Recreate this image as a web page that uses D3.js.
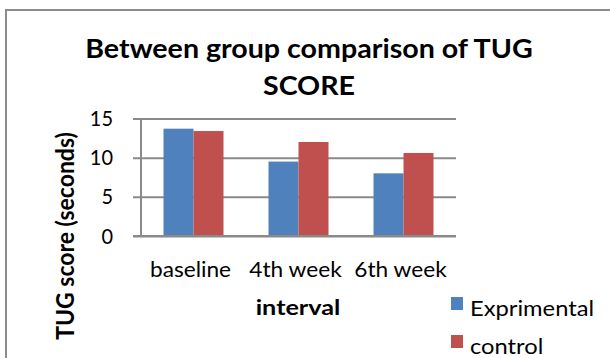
<!DOCTYPE html>
<html>
<head>
<meta charset="utf-8">
<script src="https://cdn.jsdelivr.net/npm/d3@7"></script>
<style>
  html, body { margin: 0; padding: 0; background: #fff; }
  svg text { font-family: Lato, "Noto Sans", sans-serif; fill: #000; }
</style>
</head>
<body>
<svg id="chart" width="610" height="358"></svg>
<script>
// Chart data
const categories = ["baseline", "4th week", "6th week"];
const seriesNames = ["Exprimental", "control"];
const exprimental = [13.7, 9.5, 8.0];
const control = [13.4, 12.0, 10.6];
const yTicks = [0, 5, 10, 15];
const titleLines = ["Between group comparison of TUG", "SCORE"];
const xTitle = "interval";
const yTitle = "TUG score (seconds)";

const colors = ["#4F81BD", "#C0504D"];
const gridColor = "#8a8a8a";

const svg = d3.select("#chart");
svg.append("rect").attr("width", 610).attr("height", 358).attr("fill", "#fff");

// outer chart frame
svg.append("rect")
  .attr("x", 6).attr("y", 10).attr("width", 640).attr("height", 400)
  .attr("fill", "none").attr("stroke", "#8c8c8c").attr("stroke-width", 2);

// text helper with optional horizontal stretch
function label(x, y, txt, opts = {}) {
  return svg.append("text")
    .attr("transform", `translate(${x},${y}) scale(${opts.sx ?? 1},1)` + (opts.rot ? ` rotate(${opts.rot})` : ""))
    .attr("text-anchor", opts.anchor || "middle")
    .attr("font-size", opts.size || 20)
    .attr("font-weight", opts.bold ? 700 : 400)
    .text(txt);
}

const plot = { left: 141, right: 456, top: 118.5, bottom: 236 };

const y = d3.scaleLinear().domain([0, 15]).range([plot.bottom, plot.top]);
const x0 = d3.scaleBand().domain(categories).range([plot.left, plot.right]).padding(0);
const x1 = d3.scaleBand().domain(seriesNames).range([0, x0.bandwidth()])
  .paddingInner(0).paddingOuter(0.75);

// gridlines with outside tick marks
const gy = svg.append("g").attr("transform", `translate(${plot.right},0)`)
  .call(d3.axisLeft(y).tickValues(yTicks).tickSize(plot.right - plot.left + 8).tickFormat(""));
gy.select(".domain").remove();
gy.selectAll(".tick line").attr("stroke", gridColor).attr("stroke-width", 2);

// vertical value axis
svg.append("line")
  .attr("x1", plot.left).attr("x2", plot.left)
  .attr("y1", plot.top).attr("y2", plot.bottom)
  .attr("stroke", gridColor).attr("stroke-width", 2);

// bars
const data = categories.map((c, i) => ({ cat: c, vals: [exprimental[i], control[i]] }));
const groups = svg.append("g").selectAll("g").data(data).join("g")
  .attr("transform", d => `translate(${x0(d.cat)},0)`);
groups.selectAll("rect").data(d => d.vals.map((v, k) => ({ s: seriesNames[k], v, k })))
  .join("rect")
  .attr("x", d => x1(d.s))
  .attr("width", x1.bandwidth())
  .attr("y", d => y(d.v))
  .attr("height", d => y(0) - y(d.v))
  .attr("fill", d => colors[d.k]);

// category axis line over bar bottoms
svg.append("line")
  .attr("x1", plot.left - 8).attr("x2", plot.right)
  .attr("y1", plot.bottom).attr("y2", plot.bottom)
  .attr("stroke", gridColor).attr("stroke-width", 2);

// y tick labels
yTicks.forEach(t => label(113, y(t) + 7.5, String(t), { anchor: "end", size: 21, sx: 0.95 }));

// category labels
categories.forEach(c => label(x0(c) + x0.bandwidth() / 2 - 3, 277, c, { size: 21, sx: 1.08 }));

// title
titleLines.forEach((line, i) => label(309, 58 + i * 37, line, { size: 26, bold: true, sx: 1.1 }));

// axis titles
label(298, 315, xTitle, { size: 21, bold: true, sx: 1.2 });
label(74, 236, yTitle, { size: 23, bold: true, rot: -90, sx: 1.1 });

// legend
seriesNames.forEach((s, i) => {
  const ly = 304 + i * 38;
  svg.append("rect").attr("x", 451).attr("y", ly - 7).attr("width", 12).attr("height", 13)
    .attr("fill", colors[i]);
  label(470, ly + 12, s, { anchor: "start", size: 21, sx: 1.13 });
});
</script>
</body>
</html>
